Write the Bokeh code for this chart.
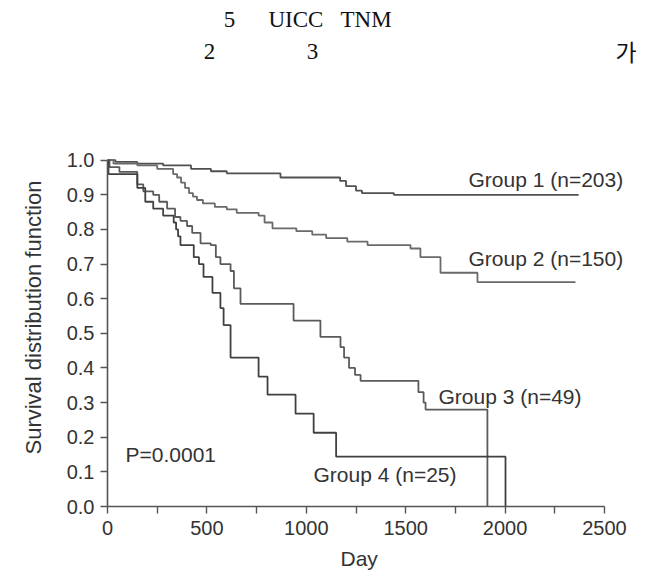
from bokeh.plotting import figure
from bokeh.models import Range1d, FixedTicker, Label, Title
from bokeh.embed import file_html
from bokeh.resources import INLINE

# ---- data ----
g1_days = [0, 40, 150, 280, 420, 520, 600, 870, 1170, 1200, 1250, 1280, 1440, 2370]
g1_surv = [1.0, 0.995, 0.99, 0.985, 0.975, 0.968, 0.962, 0.950, 0.94, 0.925, 0.912, 0.905, 0.90, 0.90]

g2_days = [0, 30, 150, 250, 330, 350, 370, 390, 410, 430, 450, 480, 540, 600, 650, 760, 790, 830,
           950, 1030, 1100, 1206, 1308, 1524, 1574, 1675, 1861, 2354]
g2_surv = [1.0, 0.99, 0.985, 0.975, 0.96, 0.95, 0.935, 0.92, 0.905, 0.895, 0.885, 0.875, 0.865, 0.858,
           0.848, 0.84, 0.82, 0.803, 0.795, 0.785, 0.775, 0.765, 0.755, 0.745, 0.72, 0.675, 0.648, 0.648]

g3_days = [0, 10, 60, 150, 180, 230, 260, 300, 340, 367, 400, 426, 468, 519, 545, 568, 619, 636, 669,
           936, 1071, 1172, 1190, 1215, 1245, 1273, 1564, 1590, 1600, 1911]
g3_surv = [1.0, 0.98, 0.966, 0.93, 0.91, 0.90, 0.88, 0.86, 0.836, 0.825, 0.81, 0.79, 0.76, 0.755, 0.72,
           0.70, 0.68, 0.63, 0.585, 0.537, 0.49, 0.46, 0.43, 0.40, 0.38, 0.363, 0.33, 0.30, 0.28, 0.0]

g4_days = [0, 5, 150, 190, 230, 280, 333, 345, 355, 367, 434, 460, 483, 528, 568, 584, 619, 760, 805,
           946, 1037, 1150, 2002]
g4_surv = [1.0, 0.96, 0.92, 0.88, 0.86, 0.84, 0.82, 0.80, 0.78, 0.755, 0.72, 0.70, 0.663, 0.617, 0.573,
           0.524, 0.43, 0.375, 0.323, 0.268, 0.213, 0.144, 0.0]

group_labels = ["Group 1 (n=203)", "Group 2 (n=150)", "Group 3 (n=49)", "Group 4 (n=25)"]
x_ticks = [0, 500, 1000, 1500, 2000, 2500]
x_minor = [250, 750, 1250, 1750, 2250]
y_ticks = [0.0, 0.1, 0.2, 0.3, 0.4, 0.5, 0.6, 0.7, 0.8, 0.9, 1.0]
y_tick_labels = ["0.0", "0.1", "0.2", "0.3", "0.4", "0.5", "0.6", "0.7", "0.8", "0.9", "1.0"]
p_value = "P=0.0001"
x_title = "Day"
y_title = "Survival distribution function"
header_1 = ["5", "UICC", "TNM"]
header_2 = ["2", "3", "가"]

# ---- layout (page pixels) ----
W, H = 650, 576
FL, FB = 107, 507            # left axis / bottom axis position
PX_PER_DAY = 497 / 2500
PX_PER_UNIT = 347
def dx(px):
    return (px - FL) / PX_PER_DAY
def dy(py):
    return (FB - py) / PX_PER_UNIT

p = figure(width=W, height=H, output_backend="svg", toolbar_location=None,
           x_range=Range1d(0, dx(W)), y_range=Range1d(0, dy(0)),
           min_border_left=FL, min_border_top=0, min_border_right=0,
           min_border_bottom=H - FB)
p.title = None
p.outline_line_color = None
p.grid.visible = False
p.background_fill_color = "white"
p.border_fill_color = "white"

FONT = "Liberation Sans"
TXT = "#333333"

for days, surv, col in [(g1_days, g1_surv, "#505050"), (g2_days, g2_surv, "#6a6a6a"),
                        (g3_days, g3_surv, "#5a5a5a"), (g4_days, g4_surv, "#404040")]:
    p.step(days, surv, mode="after", line_color=col, line_width=1.8)

# axes
for ax in (p.xaxis[0], p.yaxis[0]):
    ax.axis_line_color = "#555555"
    ax.axis_line_width = 1.6
    ax.major_tick_line_color = "#555555"
    ax.major_tick_line_width = 1.4
    ax.minor_tick_line_color = "#555555"
    ax.minor_tick_line_width = 1.4
    ax.major_tick_in = 0
    ax.major_tick_out = 7
    ax.minor_tick_in = 0
    ax.minor_tick_out = 7
    ax.major_label_text_font = FONT
    ax.major_label_text_font_size = "20px"
    ax.major_label_text_color = TXT

p.xaxis.bounds = (0, 2500)
p.xaxis.ticker = FixedTicker(ticks=x_ticks, minor_ticks=x_minor)
p.xaxis.major_label_standoff = 7

p.yaxis.bounds = (0, 1.0)
p.yaxis.ticker = FixedTicker(ticks=y_ticks)
p.yaxis.major_label_overrides = {t: s for t, s in zip(y_ticks, y_tick_labels)}
p.yaxis.major_label_standoff = 6
p.yaxis.minor_tick_out = 0

# axis titles as side titles, positioned along the panel by offset
p.add_layout(Title(text=x_title, align="left", offset=340 - FL, standoff=14,
                   text_font=FONT, text_font_size="21px", text_font_style="normal",
                   text_color=TXT), "below")
p.add_layout(Title(text=y_title, align="left", offset=FB - 455, standoff=36,
                   text_font=FONT, text_font_size="22px", text_font_style="normal",
                   text_color=TXT), "left")

# in-plot texts
lab_pos = [(468, 179), (468, 259), (438, 397), (313, 475)]
for txt, (px, py) in zip(group_labels, lab_pos):
    p.add_layout(Label(x=dx(px), y=dy(py), text=txt, text_font=FONT, text_font_size="21px",
                       text_color=TXT, text_baseline="middle", text_align="left"))
p.add_layout(Label(x=dx(125), y=dy(455), text=p_value, text_font=FONT, text_font_size="21px",
                   text_color=TXT, text_baseline="middle", text_align="left"))

# header fragments of the page
h_pos = [(229, 19, "center"), (268, 19, "left"), (340, 19, "left"),
         (209, 51, "center"), (312, 51, "center"), (615, 51, "left")]
for txt, (px, py, al) in zip(header_1 + header_2, h_pos):
    fnt = "Noto Sans CJK KR" if txt == "가" else "Liberation Serif"
    p.add_layout(Label(x=dx(px), y=dy(py), text=txt, text_font=fnt, text_font_size="23px",
                       text_color="#111111", text_baseline="middle", text_align=al))

open("out.html", "w").write(file_html(p, INLINE))
